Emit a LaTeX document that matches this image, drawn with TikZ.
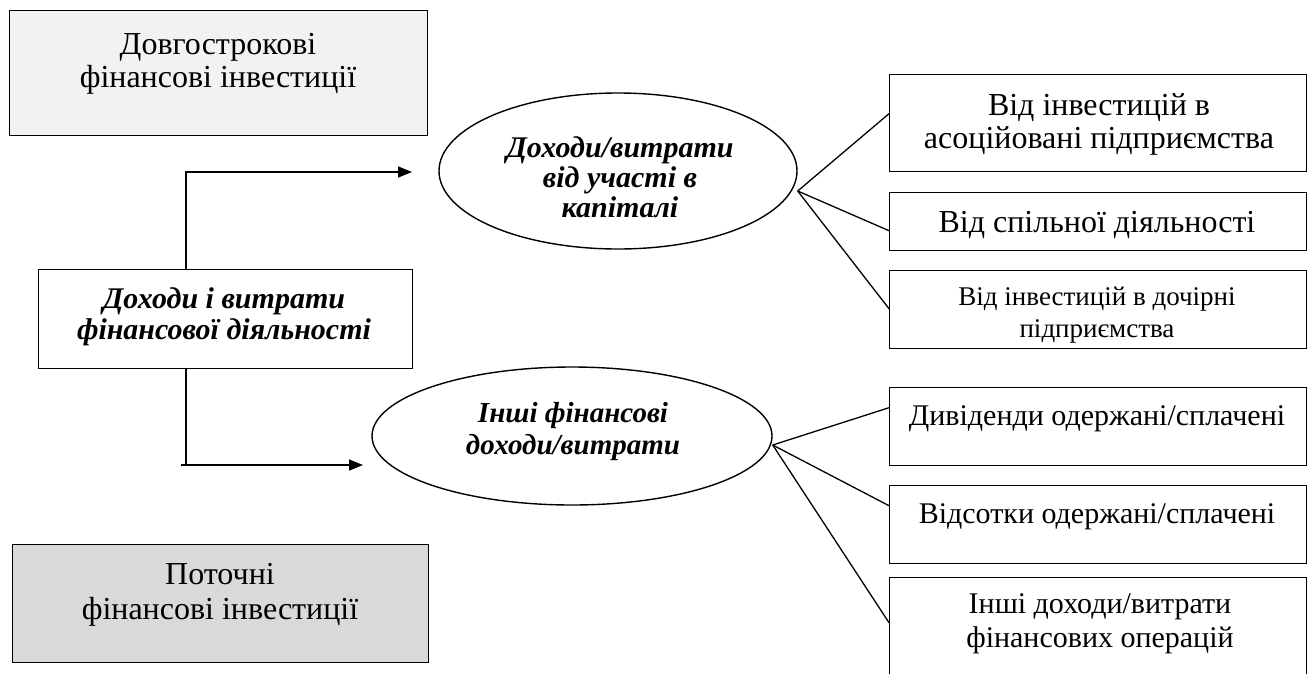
\documentclass[tikz,border=0pt]{standalone}
\usepackage{fontspec}
\setmainfont{Liberation Serif}
\usetikzlibrary{shapes.geometric,arrows.meta,calc}
\definecolor{longfill}{HTML}{F2F2F2}
\definecolor{curfill}{HTML}{D9D9D9}
\begin{document}
\begin{tikzpicture}[x=1pt,y=-1pt,
  box/.style={draw=black,line width=1.4pt,rectangle,inner sep=0pt,anchor=north west},
  oval/.style={draw=black,line width=1.4pt,ellipse,inner sep=0pt},
  big/.style={align=center,inner sep=0pt,font=\fontsize{32}{33}\selectfont},
  mid/.style={align=center,inner sep=0pt,font=\fontsize{30}{34}\selectfont},
  small/.style={align=center,inner sep=0pt,font=\fontsize{27}{32}\selectfont},
  head/.style={align=center,inner sep=0pt,font=\fontsize{30}{31}\selectfont\bfseries\itshape},
  link/.style={line width=1.3pt},
  arrow/.style={line width=1.6pt,-{Triangle[length=14pt,width=11pt]}}
]
\useasboundingbox (0,0) rectangle (1312,673);
\clip (0,0) rectangle (1312,673);

% investment boxes on the left
\node[box,fill=longfill,minimum width=418pt,minimum height=125pt] (lt) at (9,10) {};
\node[big] (ltt) at (218,64) {Довгострокові\\фінансові інвестиції};
\node[box,fill=curfill,minimum width=416pt,minimum height=118pt] (lb) at (12,544) {};
\node[big,font=\fontsize{32}{35}\selectfont] (lbt) at (220,595) {Поточні\\фінансові інвестиції};

% central box
\node[box,minimum width=374pt,minimum height=99pt] (lc) at (38,269) {};
\node[head] (lct) at (224,317) {Доходи і витрати\\фінансової діяльності};

% ellipses
\node[oval,minimum width=358pt,minimum height=156pt] (e1) at (618,171) {};
\node[head,font=\fontsize{30}{30}\selectfont\bfseries\itshape] (e1t) at (620,177.5) {Доходи/витрати\\від участі в\\капіталі};
\node[oval,minimum width=400pt,minimum height=138pt] (e2) at (572,436) {};
\node[head,font=\fontsize{29}{32}\selectfont\bfseries\itshape] (e2t) at (573,432) {Інші фінансові\\доходи/витрати};

% boxes on the right
\node[box,minimum width=417pt,minimum height=97pt] (b1) at (889,74) {};
\node[big] (b1t) at (1099,124) {Від інвестицій в\\асоційовані підприємства};
\node[box,minimum width=417pt,minimum height=58pt] (b2) at (889,192) {};
\node[big] (b2t) at (1097,224.5) {Від спільної діяльності};
\node[box,minimum width=417pt,minimum height=78pt] (b3) at (889,270) {};
\node[small] (b3t) at (1097,315) {Від інвестицій в дочірні\\підприємства};
\node[box,minimum width=417pt,minimum height=78pt] (b4) at (889,387) {};
\node[mid] (b4t) at (1097,418.5) {Дивіденди одержані/сплачені};
\node[box,minimum width=417pt,minimum height=78pt] (b5) at (889,485) {};
\node[mid] (b5t) at (1097,516.5) {Відсотки одержані/сплачені};
\node[box,minimum width=417pt,minimum height=113pt] (b6) at (889,577) {};
\node[mid] (b6t) at (1100,624) {Інші доходи/витрати\\фінансових операцій};

% arrows from the central box
\coordinate (sx) at (186,0);
\coordinate (t1) at (412,172);
\coordinate (b0) at (181,465);
\coordinate (t2) at (363,465);
\draw[arrow] (sx |- lc.north) |- (t1);
\draw[link] (sx |- lc.south) -- (sx |- b0);
\draw[arrow] (b0) -- (t2);

% fans from the ellipses
\coordinate (f1) at ($(e1.east)+(0,20)$);
\coordinate (f2) at ($(e2.east)+(0,9)$);
\draw[link] (f1) -- ($(b1.west)+(0,-9.5)$);
\draw[link] (f1) -- ($(b2.west)+(0,9)$);
\draw[link] (f1) -- ($(b3.west)+(0,-1)$);
\draw[link] (f2) -- ($(b4.west)+(0,-19)$);
\draw[link] (f2) -- ($(b5.west)+(0,-19)$);
\draw[link] (f2) -- ($(b6.west)+(0,-11.5)$);
\end{tikzpicture}
\end{document}
